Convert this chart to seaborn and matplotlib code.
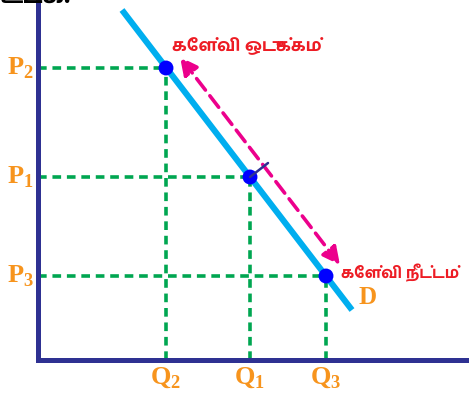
import matplotlib
matplotlib.use("Agg")
import matplotlib.pyplot as plt
import matplotlib.transforms as mtransforms
import seaborn as sns
import pandas as pd

sns.set_style("white")
plt.rcParams["mathtext.fontset"] = "custom"
plt.rcParams["mathtext.rm"] = "Liberation Serif:bold"
plt.rcParams["mathtext.bf"] = "Liberation Serif:bold"

# demand curve end points and the three price / quantity pairs
demand_q = [84, 314]
demand_p = [350, 50]
q_vals = [212, 128, 288]      # Q1, Q2, Q3
p_vals = [183, 292, 84]       # P1, P2, P3
subs = ["1", "2", "3"]

label_contract = "கேள்வி ஒடுக்கம்"
label_extend = "கேள்வி நீட்டம்"
top_text = "உடுக."

navy = "#2e3192"
sky = "#00aeef"
green = "#00a651"
orange = "#f7941d"
red = "#ed1c24"
magenta = "#ec008c"

fig = plt.figure(figsize=(4.69, 3.93), dpi=100)
ax = fig.add_axes([0, 0, 1, 1])
ax.set_xlim(-38, 431)
ax.set_ylim(-33, 360)

# axes lines
for s in ["top", "right"]:
    ax.spines[s].set_visible(False)
ax.spines["left"].set_position(("data", 0))
ax.spines["bottom"].set_position(("data", 0))
ax.spines["left"].set_bounds(0, 360)
ax.spines["bottom"].set_bounds(0, 431)
for s in ["left", "bottom"]:
    ax.spines[s].set_color(navy)
    ax.spines[s].set_linewidth(3.6)
ax.set_xticks([])
ax.set_yticks([])

# dashed guides
ax.hlines(p_vals, 0, q_vals, colors=green, linestyles=(0, (2.4, 1.6)), lw=2.6)
ax.vlines(q_vals, 0, p_vals, colors=green, linestyles=(0, (2.4, 1.6)), lw=2.6)

# demand line
dd = pd.DataFrame({"q": demand_q, "p": demand_p})
sns.lineplot(data=dd, x="q", y="p", color=sky, lw=4.4, ax=ax,
             solid_capstyle="butt", zorder=3)

# points
pts = pd.DataFrame({"q": q_vals, "p": p_vals})
sns.scatterplot(data=pts, x="q", y="p", color="#0000ff", s=115,
                edgecolor="none", ax=ax, zorder=5)
ax.set_xlabel("")
ax.set_ylabel("")

# movement along the curve
shift = mtransforms.offset_copy(ax.transData, fig, x=14, y=11, units="dots")
ax.annotate("", xy=(q_vals[1], p_vals[1]), xycoords=shift,
            xytext=(q_vals[2], p_vals[2]), textcoords=shift,
            arrowprops=dict(arrowstyle="<|-|>", color=magenta, lw=2.6,
                            linestyle=(0, (4, 2)), mutation_scale=26,
                            shrinkA=0, shrinkB=0), zorder=4)

# small tick at P1
ax.annotate("", xy=(q_vals[0], p_vals[0]), xytext=(18, 14),
            textcoords="offset pixels",
            arrowprops=dict(arrowstyle="-", color=navy, lw=1.8,
                            shrinkA=0, shrinkB=0), zorder=6)

serif = dict(family="Liberation Serif", weight="bold", color=orange)
for q, p, s in zip(q_vals, p_vals, subs):
    ax.text(-18, p, "P$_{" + s + "}$", fontsize=19, ha="center",
            va="center", **serif)
    ax.text(q, -18, "Q$_{" + s + "}$", fontsize=19, ha="center",
            va="center", **serif)
ax.text(330, 62, "D", fontsize=18, ha="center", va="center", **serif)

tamil = dict(family=["Hind Madurai", "DejaVu Sans"], weight="bold",
             color=red)
ax.text(134, 314, label_contract, ha="left", va="center", fontsize=12.5,
        **tamil)
ax.text(303, 87, label_extend, ha="left", va="center", fontsize=11.2,
        **tamil)

ax.text(-38, 351, top_text, ha="left", va="bottom", fontsize=18,
        family=["Hind Madurai", "DejaVu Sans"], weight="bold",
        color="black")

fig.savefig("out.png", dpi=100)
